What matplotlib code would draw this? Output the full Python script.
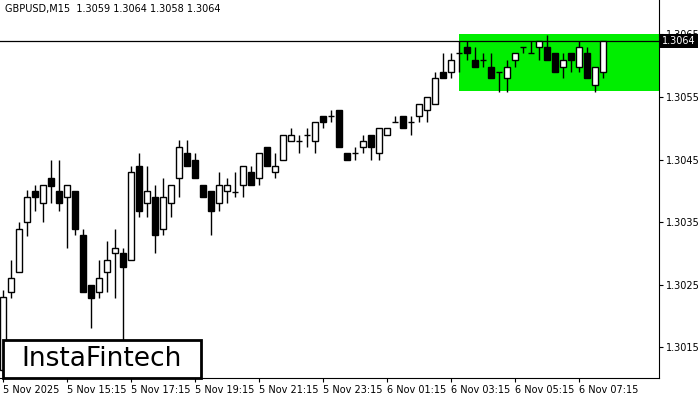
import matplotlib
matplotlib.use("Agg")
import matplotlib.pyplot as plt
from matplotlib.patches import Rectangle

# OHLC of 76 bars of 15 min
o = [1.30114, 1.30239, 1.30271, 1.30350, 1.30400, 1.30381, 1.30421, 1.30400, 1.30390, 1.30400,
     1.30330, 1.30250, 1.30239, 1.30271, 1.30301, 1.30301, 1.30290, 1.30440, 1.30381, 1.30390,
     1.30339, 1.30381, 1.30421, 1.30461, 1.30449, 1.30409, 1.30400, 1.30381, 1.30400, 1.30398,
     1.30409, 1.30430, 1.30421, 1.30470, 1.30430, 1.30449, 1.30480, 1.30480, 1.30489, 1.30480,
     1.30520, 1.30520, 1.30529, 1.30461, 1.30461, 1.30470, 1.30489, 1.30461, 1.30489, 1.30510,
     1.30520, 1.30510, 1.30520, 1.30529, 1.30539, 1.30590, 1.30590, 1.30620, 1.30630, 1.30609,
     1.30609, 1.30598, 1.30590, 1.30580, 1.30609, 1.30630, 1.30620, 1.30630, 1.30630, 1.30620,
     1.30598, 1.30620, 1.30598, 1.30620, 1.30569, 1.30590]
h = [1.30242, 1.30290, 1.30350, 1.30401, 1.30409, 1.30409, 1.30449, 1.30449, 1.30409, 1.30400,
     1.30339, 1.30250, 1.30290, 1.30320, 1.30339, 1.30309, 1.30440, 1.30461, 1.30440, 1.30409,
     1.30421, 1.30409, 1.30481, 1.30481, 1.30461, 1.30409, 1.30400, 1.30430, 1.30421, 1.30430,
     1.30440, 1.30440, 1.30461, 1.30470, 1.30461, 1.30489, 1.30500, 1.30489, 1.30500, 1.30510,
     1.30520, 1.30529, 1.30529, 1.30461, 1.30470, 1.30489, 1.30489, 1.30500, 1.30500, 1.30520,
     1.30520, 1.30520, 1.30539, 1.30550, 1.30590, 1.30620, 1.30620, 1.30639, 1.30639, 1.30630,
     1.30620, 1.30620, 1.30590, 1.30609, 1.30620, 1.30630, 1.30639, 1.30639, 1.30649, 1.30620,
     1.30620, 1.30620, 1.30639, 1.30630, 1.30598, 1.30639]
l = [1.30105, 1.30229, 1.30271, 1.30328, 1.30368, 1.30350, 1.30381, 1.30368, 1.30309, 1.30330,
     1.30239, 1.30181, 1.30229, 1.30239, 1.30229, 1.30140, 1.30290, 1.30358, 1.30358, 1.30301,
     1.30330, 1.30358, 1.30390, 1.30440, 1.30421, 1.30390, 1.30330, 1.30368, 1.30381, 1.30390,
     1.30390, 1.30409, 1.30409, 1.30440, 1.30421, 1.30449, 1.30480, 1.30461, 1.30470, 1.30461,
     1.30500, 1.30510, 1.30470, 1.30449, 1.30449, 1.30461, 1.30449, 1.30449, 1.30489, 1.30510,
     1.30500, 1.30489, 1.30510, 1.30510, 1.30539, 1.30580, 1.30580, 1.30590, 1.30609, 1.30598,
     1.30598, 1.30580, 1.30558, 1.30558, 1.30598, 1.30620, 1.30620, 1.30609, 1.30609, 1.30590,
     1.30580, 1.30590, 1.30590, 1.30580, 1.30558, 1.30580]
c = [1.30231, 1.30261, 1.30339, 1.30390, 1.30390, 1.30409, 1.30408, 1.30381, 1.30409, 1.30339,
     1.30239, 1.30229, 1.30261, 1.30290, 1.30309, 1.30279, 1.30430, 1.30368, 1.30400, 1.30330,
     1.30390, 1.30409, 1.30470, 1.30440, 1.30421, 1.30390, 1.30368, 1.30409, 1.30409, 1.30398,
     1.30440, 1.30409, 1.30461, 1.30440, 1.30440, 1.30489, 1.30489, 1.30480, 1.30489, 1.30510,
     1.30510, 1.30520, 1.30470, 1.30449, 1.30461, 1.30480, 1.30470, 1.30500, 1.30500, 1.30510,
     1.30500, 1.30510, 1.30539, 1.30550, 1.30580, 1.30580, 1.30609, 1.30620, 1.30620, 1.30598,
     1.30609, 1.30580, 1.30590, 1.30598, 1.30620, 1.30630, 1.30620, 1.30639, 1.30609, 1.30590,
     1.30609, 1.30609, 1.30630, 1.30580, 1.30598, 1.30639]

time_labels = ["5 Nov 2025", "5 Nov 15:15", "5 Nov 17:15", "5 Nov 19:15", "5 Nov 21:15",
               "5 Nov 23:15", "6 Nov 01:15", "6 Nov 03:15", "6 Nov 05:15", "6 Nov 07:15"]
price_ticks = [1.3015, 1.3025, 1.3035, 1.3045, 1.3055, 1.3065]
zone_top, zone_bot, zone_start = 1.3065, 1.3056, 57
last_price = 1.3064

fig = plt.figure(figsize=(7, 4), dpi=100)
ax = fig.add_axes([0, 22/400, 659/700, 378/400])

for i in range(len(o)):
    ax.vlines(i, l[i], h[i], color='black', lw=1)
    lo, hi = min(o[i], c[i]), max(o[i], c[i])
    face = 'white' if c[i] >= o[i] else 'black'
    if hi - lo < 0.00002:
        ax.hlines(o[i], i - 0.35, i + 0.35, color='black', lw=1)
    else:
        ax.add_patch(Rectangle((i - 0.33, lo), 0.66, hi - lo, facecolor=face,
                               edgecolor='black', lw=1, zorder=3))

ax.add_patch(Rectangle((zone_start, zone_bot), 100, zone_top - zone_bot,
                       facecolor='#00ee00', edgecolor='none', zorder=0))
ax.axhline(last_price, color='black', lw=0.9, zorder=1)

ax.set_xlim(-0.375, 82)
ax.set_ylim(1.30101, 1.30705)
ax.yaxis.tick_right()
ax.set_yticks(price_ticks)
ax.set_yticklabels([f"{p:.4f}" for p in price_ticks])
ax.set_xticks(range(0, 80, 8))
ax.set_xticklabels(time_labels, ha='left')
ax.tick_params(labelsize=7, length=3, pad=2)
for s in ['top', 'left']:
    ax.spines[s].set_visible(False)

ax.text(1.005, last_price, f"{last_price:.4f}", transform=ax.get_yaxis_transform(),
        va='center', ha='left', fontsize=7, color='white',
        bbox=dict(facecolor='black', edgecolor='none', pad=1.5))
ax.text(0.007, 0.975, "GBPUSD,M15  1.3059 1.3064 1.3058 1.3064", transform=ax.transAxes,
        fontsize=7, va='center')

fig.patches.append(Rectangle((3/700, 22/400), 198/700, 38/400, transform=fig.transFigure,
                             facecolor='white', edgecolor='black', lw=2, zorder=5))
fig.text(102/700, 41/400, "InstaFintech", fontsize=19, ha='center', va='center', zorder=6)

fig.savefig("out.png", dpi=100)
